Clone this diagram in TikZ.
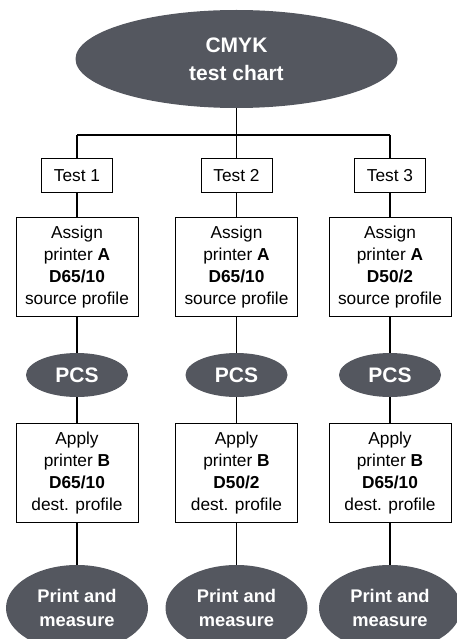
\documentclass[tikz,border=0pt]{standalone}
\usepackage{fontspec}
\setmainfont{Liberation Sans}
\usetikzlibrary{shapes.geometric}
\definecolor{oval}{HTML}{54575F}
\begin{document}
\begin{tikzpicture}[x=1pt,y=-1pt,
  oval/.style={ellipse,fill=oval,text=white,inner sep=0pt,align=center,font=\bfseries},
  box/.style={draw=black,line width=0.9pt,fill=white,inner sep=0pt,align=center,
     font=\fontsize{17.3}{21.7}\selectfont},
  testbox/.style={box,minimum width=71pt,minimum height=34pt},
  stepbox/.style={box,minimum width=122pt,minimum height=99pt},
  link/.style={line width=1.8pt,black}]
\useasboundingbox (0,0) rectangle (457,639);
\node[oval,minimum width=322pt,minimum height=98pt,font=\bfseries\fontsize{21}{28}\selectfont] (top) at (236.5,59) {CMYK\\test chart};
\coordinate (b1) at (77,135);
\coordinate (b2) at (236.5,135);
\coordinate (b3) at (390,135);
\foreach \i/\x/\srcp/\dstp in {1/77/D65\slash 10/D65\slash 10, 2/236.5/D65\slash 10/D50\slash 2, 3/390/D50\slash 2/D65\slash 10}{
  \node[testbox] (t\i) at (\x,175.5) {Test \i};
  \node[stepbox] (a\i) at (\x,267) {Assign\\printer \textbf{A}\\\textbf{\srcp}\\source profile};
  \node[oval,minimum width=102pt,minimum height=44pt,font=\bfseries\fontsize{21}{26}\selectfont] (p\i) at (\x,375) {PCS};
  \node[stepbox] (d\i) at (\x,473) {Apply\\printer \textbf{B}\\\textbf{\dstp}\\dest. profile};
  \node[oval,minimum width=142pt,minimum height=86pt,font=\bfseries\fontsize{18.3}{24}\selectfont] (m\i) at (\x,608) {Print and\\measure};
  \draw[link] (b\i) -- (t\i.north);
  \draw[link] (t\i.south) -- (a\i.north);
  \draw[link] (a\i.south) -- (p\i.north);
  \draw[link] (p\i.south) -- (d\i.north);
  \draw[link] (d\i.south) -- (m\i.north);
}
\draw[link] (top.south) -- (b2);
\draw[link] (b1) -- (b3);
\end{tikzpicture}
\end{document}
